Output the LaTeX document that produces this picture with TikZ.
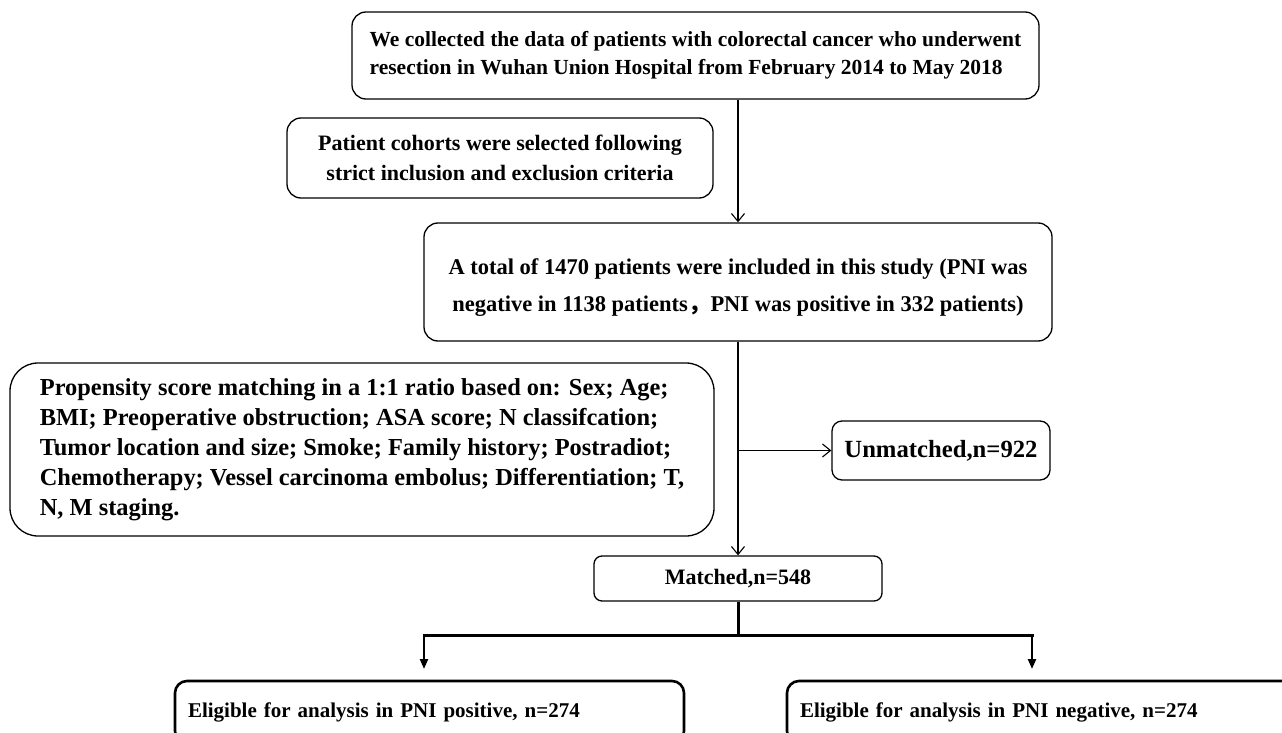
\documentclass[tikz,border=0pt]{standalone}
\usepackage{fontspec}
\setmainfont{Liberation Serif}
\newfontfamily\cjkfont{Noto Sans CJK SC}
\usetikzlibrary{arrows.meta}
\begin{document}
\begin{tikzpicture}[x=1pt,y=-1pt,
  box/.style={draw=black,line width=1.3pt,rounded corners=14pt,inner sep=0pt,font=\bfseries},
  thinarr/.style={draw=black,line width=1.3pt,-{Straight Barb[length=8pt,width=13pt,line width=1.1pt]}},
  thickline/.style={draw=black,line width=3pt},
  thickarr/.style={draw=black,line width=2.2pt,-{Triangle[length=10pt,width=8pt]}},
  botbox/.style={draw=black,line width=2.6pt,rounded corners=12pt,inner xsep=13pt,inner ysep=0pt,font=\bfseries\fontsize{21}{24}\selectfont,align=left}]
\useasboundingbox (0,0) rectangle (1282,733);
\clip (0,0) rectangle (1282,733);
% boxes
\node[box,minimum width=687,minimum height=87,align=left,font=\bfseries\fontsize{21.5}{28}\selectfont] (top) at (695.5,55.5)
  {We collected the data of patients with colorectal cancer who underwent\\resection in Wuhan Union Hospital from February 2014 to May 2018};
\node[box,minimum width=426,minimum height=80,align=center,font=\bfseries\fontsize{22}{30}\selectfont] (crit) at (500,158)
  {Patient cohorts were selected following\\strict inclusion and exclusion criteria};
\node[box,minimum width=628,minimum height=118,align=center,font=\bfseries\fontsize{22.5}{37}\selectfont] (total) at (738,282)
  {\rule{0pt}{26pt}A total of 1470 patients were included in this study (PNI was\\negative in 1138 patients{\cjkfont ，}PNI was positive in 332 patients)};
\node[box,minimum width=704,minimum height=173,rounded corners=28pt,align=left,font=\bfseries\fontsize{24.4}{30}\selectfont] (psm) at (362,449.5)
  {Propensity score matching in a 1:1 ratio based on: Sex; Age;\\BMI; Preoperative obstruction; ASA score; N classifcation;\\Tumor location and size; Smoke; Family history; Postradiot;\\Chemotherapy; Vessel carcinoma embolus; Differentiation; T,\\N, M staging.};
\node[box,minimum width=218,minimum height=59,rounded corners=10pt,font=\bfseries\fontsize{24.7}{30}\selectfont] (unm) at (941,450.5) {Unmatched,n=922};
\node[box,minimum width=288,minimum height=45,rounded corners=8pt,font=\bfseries\fontsize{22}{24}\selectfont] (mat) at (738,578.5) {Matched,n=548};
\node[botbox,text width=483,minimum height=62] (pos) at (429.5,712) {Eligible for analysis in PNI positive, n=274};
\node[botbox,text width=487,minimum height=62] (neg) at (1043.5,712) {Eligible for analysis in PNI negative, n=274};
% connectors
\draw[thinarr] (top.south -| total.north) -- (total.north);
\draw[thinarr] (total.south) -- (mat.north);
\draw[thinarr] (total.south |- unm.west) -- (unm.west);
\coordinate (j) at (738,635);
\coordinate (jl) at (424,635);
\coordinate (jr) at (1032,635);
\coordinate (el) at (424,669);
\coordinate (er) at (1032,669);
\draw[thickline] (mat.south) -- (j);
\draw[thickline,line cap=rect] (jl) -- (jr);
\draw[thickarr] (jl) -- (el);
\draw[thickarr] (jr) -- (er);
\end{tikzpicture}
\end{document}
